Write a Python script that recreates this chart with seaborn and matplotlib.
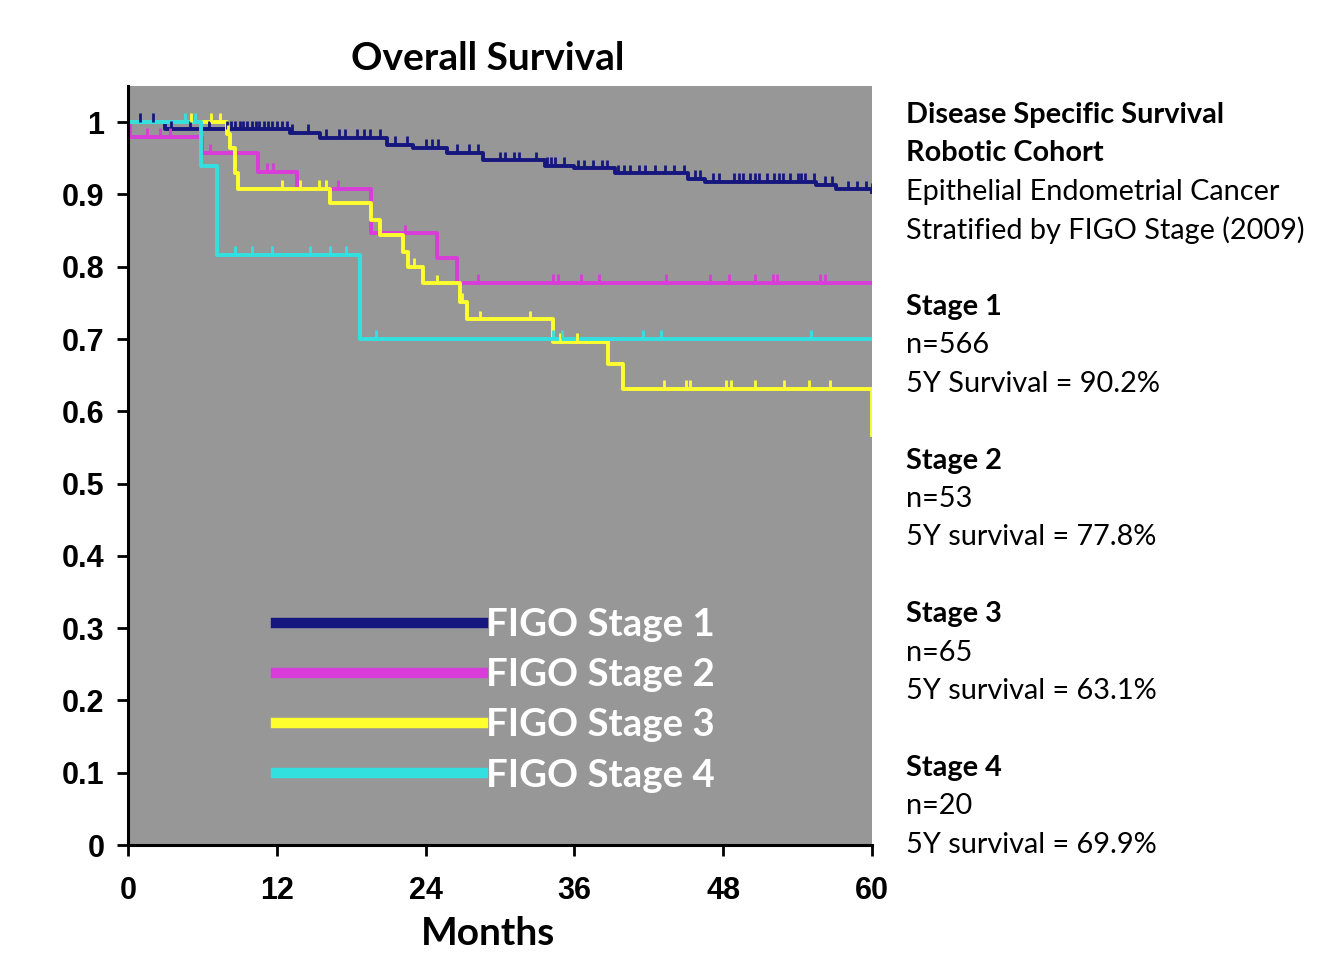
import numpy as np
import pandas as pd
import matplotlib
matplotlib.use("Agg")
import matplotlib.pyplot as plt
from matplotlib.lines import Line2D
import seaborn as sns

# step curves (time in months, survival from that time on)
stage1_t = [0, 3.0, 13.1, 15.5, 20.9, 23.0, 25.7, 28.6, 33.6, 36.0, 39.3, 45.2, 46.5, 55.5, 57.1, 60]
stage1_s = [1.0, 0.99, 0.985, 0.978, 0.968, 0.964, 0.957, 0.947, 0.940, 0.936, 0.929, 0.922, 0.917, 0.913, 0.907, 0.904]
stage2_t = [0, 0.2, 6.0, 10.5, 13.6, 19.6, 24.9, 26.5, 60]
stage2_s = [1.0, 0.98, 0.957, 0.931, 0.908, 0.846, 0.812, 0.778, 0.778]
stage3_t = [0, 8.0, 8.2, 8.6, 8.9, 16.3, 19.6, 20.3, 22.2, 22.6, 23.8, 26.8, 27.3, 34.3, 38.7, 39.9, 60, 60]
stage3_s = [1.0, 0.984, 0.964, 0.929, 0.908, 0.888, 0.864, 0.844, 0.821, 0.80, 0.777, 0.751, 0.727, 0.696, 0.665, 0.631, 0.631, 0.567]
stage4_t = [0, 5.9, 7.15, 18.7, 60]
stage4_s = [1.0, 0.94, 0.816, 0.70, 0.70]

# censoring times
stage1_cens = [1, 2, 3.5, 5, 6.5, 8, 8.3, 8.6, 9, 9.3, 9.6, 10, 10.3, 10.6, 11, 11.3, 11.6, 12, 12.4,
               12.8, 13.2, 14.5, 16, 17, 17.5, 18.5, 19, 19.5, 20.3, 21.5, 22.5, 24, 24.5, 25, 26.5,
               27.5, 28.2, 30, 30.4, 31.1, 31.5, 32.9, 33.8, 34.1, 34.4, 35.2, 36.3, 36.8, 37.5, 38.2,
               38.6, 39.5, 40.0, 40.5, 41.2, 41.7, 42.5, 43.3, 44.0, 44.8, 45.7, 46.1, 47.2, 47.7,
               48.9, 49.3, 49.6, 50.2, 50.6, 50.9, 51.5, 52.1, 52.5, 52.8, 53.4, 54.0, 54.3, 54.6,
               55.3, 56.2, 56.8, 58.1, 58.8, 59.5, 60]
stage2_cens = [1.5, 2.6, 3.4, 6.6, 11.2, 11.7, 16.9, 22.3, 28.2, 34.3, 34.7, 36.5, 38.0, 43.4, 46.9,
               48.5, 50.6, 52.0, 52.3, 55.8, 56.2]
stage3_cens = [5.1, 6.7, 7.4, 8.1, 12.4, 13.9, 15.4, 16.0, 23.1, 24.9, 26.9, 28.4, 32.4, 34.8, 36.2,
               43.2, 45.0, 45.3, 48.2, 48.6, 50.6, 52.9, 54.9, 56.6]
stage4_cens = [4.6, 5.4, 8.6, 10.0, 11.6, 14.7, 16.3, 17.6, 20.0, 34.3, 35.0, 41.5, 43.0, 55.1]

stages = ["Stage 1", "Stage 2", "Stage 3", "Stage 4"]
legend_labels = ["FIGO Stage 1", "FIGO Stage 2", "FIGO Stage 3", "FIGO Stage 4"]
colors = ["#16167f", "#d93cd9", "#ffff2e", "#33e0e0"]
x_ticks = [0, 12, 24, 36, 48, 60]
y_ticks = [0, 0.1, 0.2, 0.3, 0.4, 0.5, 0.6, 0.7, 0.8, 0.9, 1.0]
y_ticklabels = ["0", "0.1", "0.2", "0.3", "0.4", "0.5", "0.6", "0.7", "0.8", "0.9", "1"]

side_text = [
    ("Disease Specific Survival", "bold"),
    ("Robotic Cohort", "bold"),
    ("Epithelial Endometrial Cancer", "normal"),
    ("Stratified by FIGO Stage (2009)", "normal"),
    ("", "normal"),
    ("Stage 1", "bold"), ("n=566", "normal"), ("5Y Survival = 90.2%", "normal"), ("", "normal"),
    ("Stage 2", "bold"), ("n=53", "normal"), ("5Y survival = 77.8%", "normal"), ("", "normal"),
    ("Stage 3", "bold"), ("n=65", "normal"), ("5Y survival = 63.1%", "normal"), ("", "normal"),
    ("Stage 4", "bold"), ("n=20", "normal"), ("5Y survival = 69.9%", "normal"),
]

curve_t = [stage1_t, stage2_t, stage3_t, stage4_t]
curve_s = [stage1_s, stage2_s, stage3_s, stage4_s]
cens_t = [stage1_cens, stage2_cens, stage3_cens, stage4_cens]

curves = pd.concat([pd.DataFrame({"month": t, "surv": s, "stage": st})
                    for t, s, st in zip(curve_t, curve_s, stages)], ignore_index=True)

# censor marks sit on the step curve
cens_rows = []
for t, s, c, st in zip(curve_t, curve_s, cens_t, stages):
    idx = np.searchsorted(t, c, side="right") - 1
    cens_rows.append(pd.DataFrame({"month": c, "surv": np.array(s)[idx], "stage": st}))
censors = pd.concat(cens_rows, ignore_index=True)

plt.rcParams["font.family"] = ["Lato", "DejaVu Sans"]

fig = plt.figure(figsize=(13.25, 9.64), dpi=100)
ax = fig.add_axes([0.0966, 0.1234, 0.5615, 0.7874])
ax.set_facecolor("#979797")

pal = dict(zip(stages, colors))
sns.lineplot(data=curves, x="month", y="surv", hue="stage", palette=pal, drawstyle="steps-post",
             estimator=None, sort=False, linewidth=2.8, legend=False, ax=ax)
sns.scatterplot(data=censors, x="month", y="surv", hue="stage", palette=pal, marker=2,
                s=40, linewidth=2.0, edgecolor=None, legend=False, ax=ax, zorder=3)

ax.set_xlim(0, 60)
ax.set_ylim(0, 1.05)
ax.set_xticks(x_ticks)
ax.set_xticklabels([str(v) for v in x_ticks], family="Liberation Sans", weight="bold", size=22)
ax.set_yticks(y_ticks)
ax.set_yticklabels(y_ticklabels, family="Liberation Sans", weight="bold", size=22)
ax.tick_params(axis="x", length=8, width=2, pad=14)
ax.tick_params(axis="y", length=8, width=2, pad=9)
for side in ["top", "right"]:
    ax.spines[side].set_visible(False)
for side in ["left", "bottom"]:
    ax.spines[side].set_linewidth(2.2)
ax.set_ylabel("")
ax.set_xlabel("Months", fontsize=28, weight="bold")
ax.xaxis.set_label_coords(0.484, -0.093)

ax.text(0.484, 1.021, "Overall Survival", transform=ax.transAxes, ha="center", va="baseline",
        fontsize=28, weight="bold")

handles = [Line2D([0], [0], color=c, linewidth=7.5) for c in colors]
leg = ax.legend(handles, legend_labels, loc="upper left", bbox_to_anchor=(0.199, 0.312),
                frameon=False, handlelength=5.4, handletextpad=0.08, labelspacing=0.42,
                borderpad=0, borderaxespad=0,
                prop={"family": "Lato", "weight": "bold", "size": 27.6})
for txt in leg.get_texts():
    txt.set_color("white")

y0 = 115
for i, (line, w) in enumerate(side_text):
    if line:
        fig.text(0.684, 1 - (y0 + i * 38.4) / 964, line, ha="left", va="center",
                 fontsize=20.8, weight=w)

fig.savefig("out.png", dpi=100)
